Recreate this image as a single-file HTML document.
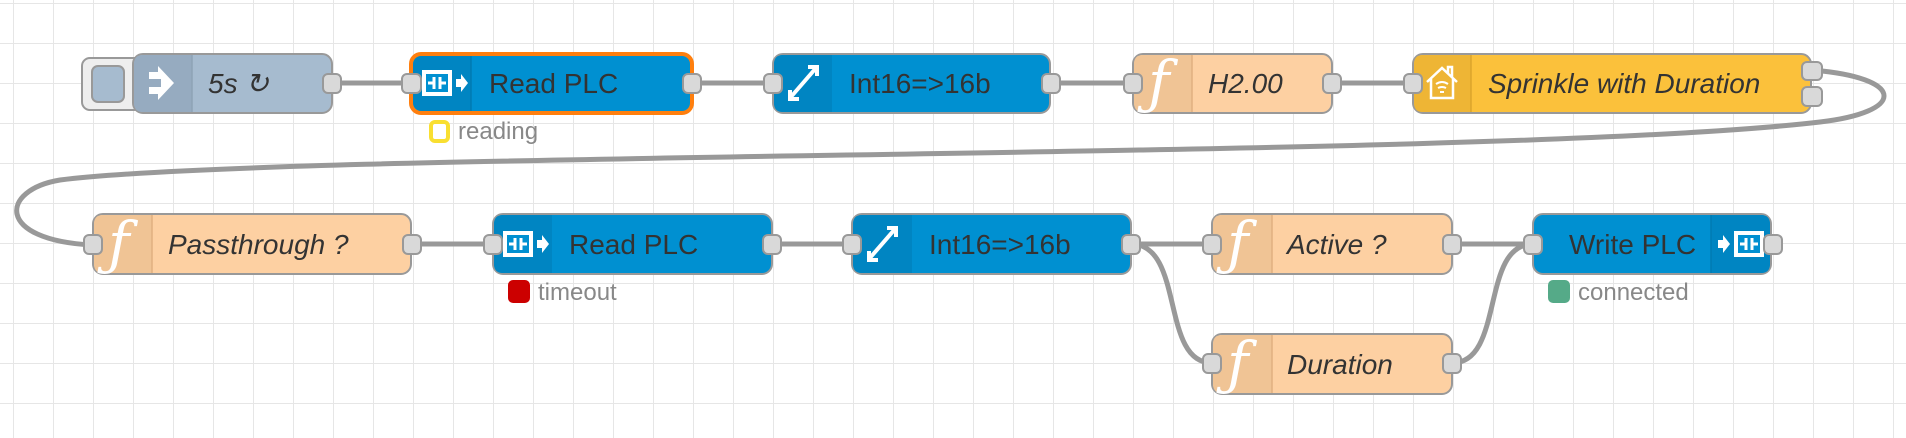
<!DOCTYPE html>
<html><head><meta charset="utf-8"><style>
html,body{margin:0;padding:0;background:#fff;}
svg{display:block;}
text{font-family:"Liberation Sans",Helvetica,Arial,sans-serif;}
.lbl{font-size:28px;fill:#333;}
.it{font-style:italic;}
.st{font-size:24px;fill:#888;}
.port{fill:#d9d9d9;stroke:#999;stroke-width:2;}
.node{stroke:#999;stroke-width:2;}
.wire{fill:none;stroke:#999;stroke-width:5;}
.f{font-family:"DejaVu Serif","Liberation Serif",serif;font-style:italic;font-size:58px;fill:#fff;font-weight:normal;}
</style></head><body>
<svg width="1906" height="438" viewBox="0 0 1906 438" xmlns="http://www.w3.org/2000/svg">
<defs>
<pattern id="g" x="13" y="3" width="40" height="40" patternUnits="userSpaceOnUse">
<path d="M0 0H40M0 0V40" stroke="#e6e6e6" stroke-width="2" fill="none"/>
</pattern>
<g id="plc"><rect x="0" y="0" width="30" height="26" fill="#fff"/><rect x="4" y="4" width="22" height="18" fill="#0090d1"/><path d="M6 13H12M12 7V19M18 7V19M18 13H24" stroke="#fff" stroke-width="3" fill="none"/></g>
</defs>
<rect width="1906" height="438" fill="url(#g)"/>

<!-- wires -->
<path class="wire" d="M341 83H402"/>
<path class="wire" d="M692 83H773"/>
<path class="wire" d="M1050 83H1133"/>
<path class="wire" d="M1332 83H1413"/>
<path class="wire" d="M1822 71C1905 80 1905 112 1820 122C1500 160 300 150 60 180C0 190 -5 240 92 245"/>
<path class="wire" d="M411 244H493"/>
<path class="wire" d="M772 244H852"/>
<path class="wire" d="M1131 244H1212"/>
<path class="wire" d="M1452 244H1533"/>
<path class="wire" d="M1131 244C1185 244 1160 363 1212 363"/>
<path class="wire" d="M1452 363C1505 363 1480 244 1533 244"/>

<!-- inject -->
<rect x="82" y="58" width="60" height="52" rx="8" fill="#eee" stroke="#999" stroke-width="2"/>
<rect x="92" y="66" width="32" height="36" rx="6" fill="#a6bbcf" stroke="#999" stroke-width="2"/>
<rect class="node" x="133" y="54" width="199" height="59" rx="10" fill="#a6bbcf"/>
<path d="M134 64Q134 55 143 55H192V112H143Q134 112 134 103Z" fill="#96abc0"/>
<line x1="192" y1="55" x2="192" y2="112" stroke="#8fa3b6" stroke-width="1.5"/>
<path d="M149 72H158V66L174 83L158 100V94H149V87H161V79H149Z" fill="#fff"/>
<text class="lbl it" x="208" y="93">5s ↻</text>
<rect class="port" x="323" y="74" width="18" height="19" rx="5"/>

<!-- Read PLC 1 -->
<rect x="411" y="54" width="281" height="59" rx="10" fill="#0090d1" stroke="#ff7f0e" stroke-width="4"/>
<path d="M413 66Q413 56 423 56H471V111H423Q413 111 413 101Z" fill="#0085c2"/>
<line x1="471" y1="56" x2="471" y2="111" stroke="#007ab3" stroke-width="1.5"/>
<use href="#plc" x="422" y="70"/>
<path d="M456 79H461V74L468 83L461 92V87H456Z" fill="#fff"/>
<text class="lbl" x="489" y="93">Read PLC</text>
<rect class="port" x="402" y="74" width="19" height="19" rx="5"/>
<rect class="port" x="683" y="74" width="18" height="19" rx="5"/>
<rect x="431" y="122" width="17" height="19" rx="4" fill="#fff" stroke="#f9df31" stroke-width="4"/>
<text class="st" x="458" y="139">reading</text>

<!-- Int16 1 -->
<rect class="node" x="773" y="54" width="277" height="59" rx="10" fill="#0090d1"/>
<path d="M774 64Q774 55 783 55H832V112H783Q774 112 774 103Z" fill="#0085c2"/>
<path d="M790 98L816 68M808 67H817V76M799 99H790V90" stroke="#fff" stroke-width="4" fill="none"/>
<text class="lbl" x="849" y="93">Int16=&gt;16b</text>
<rect class="port" x="764" y="74" width="18" height="19" rx="5"/>
<rect class="port" x="1042" y="74" width="18" height="19" rx="5"/>

<!-- H2.00 -->
<rect class="node" x="1133" y="54" width="199" height="59" rx="10" fill="#fdd0a2"/>
<path d="M1134 64Q1134 55 1143 55H1192V112H1143Q1134 112 1134 103Z" fill="#f0c495"/>
<line x1="1192" y1="55" x2="1192" y2="112" stroke="#e0b080" stroke-width="1.5"/>
<text class="f" x="1148" y="102">ƒ</text>
<text class="lbl it" x="1208" y="93">H2.00</text>
<rect class="port" x="1124" y="74" width="18" height="19" rx="5"/>
<rect class="port" x="1323" y="74" width="18" height="19" rx="5"/>

<!-- Sprinkle -->
<rect class="node" x="1413" y="54" width="398" height="59" rx="10" fill="#fbc13b"/>
<path d="M1414 64Q1414 55 1423 55H1471V112H1423Q1414 112 1414 103Z" fill="#eeb535"/>
<line x1="1471" y1="55" x2="1471" y2="112" stroke="#dca52c" stroke-width="1.5"/>
<path d="M1427 82L1442 68L1457 82M1431 79V98H1453V79M1448 73V67H1452V77" stroke="#fff" stroke-width="2.5" fill="none"/>
<path d="M1436 84Q1442 80 1448 84M1438 88Q1442 86 1446 88M1440 92H1444" stroke="#fff" stroke-width="2" fill="none"/>
<text class="lbl it" x="1488" y="93">Sprinkle with Duration</text>
<rect class="port" x="1404" y="74" width="18" height="19" rx="5"/>
<rect class="port" x="1802" y="62" width="20" height="18" rx="5"/>
<rect class="port" x="1802" y="87" width="20" height="19" rx="5"/>

<!-- Passthrough -->
<rect class="node" x="93" y="214" width="318" height="60" rx="10" fill="#fdd0a2"/>
<path d="M94 224Q94 215 103 215H152V273H103Q94 273 94 264Z" fill="#f0c495"/>
<line x1="152" y1="215" x2="152" y2="273" stroke="#e0b080" stroke-width="1.5"/>
<text class="f" x="108" y="263">ƒ</text>
<text class="lbl it" x="168" y="254">Passthrough ?</text>
<rect class="port" x="84" y="235" width="18" height="19" rx="5"/>
<rect class="port" x="403" y="235" width="18" height="19" rx="5"/>

<!-- Read PLC 2 -->
<rect class="node" x="493" y="214" width="279" height="60" rx="10" fill="#0090d1"/>
<path d="M494 224Q494 215 503 215H552V273H503Q494 273 494 264Z" fill="#0085c2"/>
<use href="#plc" x="503" y="231"/>
<path d="M537 240H542V235L549 244L542 253V248H537Z" fill="#fff"/>
<text class="lbl" x="569" y="254">Read PLC</text>
<rect class="port" x="484" y="235" width="18" height="19" rx="5"/>
<rect class="port" x="763" y="235" width="18" height="19" rx="5"/>
<rect x="508" y="280" width="22" height="23" rx="5" fill="#c00"/>
<text class="st" x="538" y="300">timeout</text>

<!-- Int16 2 -->
<rect class="node" x="852" y="214" width="279" height="60" rx="10" fill="#0090d1"/>
<path d="M853 224Q853 215 862 215H912V273H862Q853 273 853 264Z" fill="#0085c2"/>
<path d="M869 259L895 229M887 228H896V237M878 260H869V251" stroke="#fff" stroke-width="4" fill="none"/>
<text class="lbl" x="929" y="254">Int16=&gt;16b</text>
<rect class="port" x="843" y="235" width="18" height="19" rx="5"/>
<rect class="port" x="1122" y="235" width="18" height="19" rx="5"/>

<!-- Active -->
<rect class="node" x="1212" y="214" width="240" height="60" rx="10" fill="#fdd0a2"/>
<path d="M1213 224Q1213 215 1222 215H1272V273H1222Q1213 273 1213 264Z" fill="#f0c495"/>
<line x1="1272" y1="215" x2="1272" y2="273" stroke="#e0b080" stroke-width="1.5"/>
<text class="f" x="1227" y="263">ƒ</text>
<text class="lbl it" x="1287" y="254">Active ?</text>
<rect class="port" x="1203" y="235" width="18" height="19" rx="5"/>
<rect class="port" x="1443" y="235" width="18" height="19" rx="5"/>

<!-- Duration -->
<rect class="node" x="1212" y="334" width="240" height="60" rx="10" fill="#fdd0a2"/>
<path d="M1213 344Q1213 335 1222 335H1272V393H1222Q1213 393 1213 384Z" fill="#f0c495"/>
<line x1="1272" y1="335" x2="1272" y2="393" stroke="#e0b080" stroke-width="1.5"/>
<text class="f" x="1227" y="383">ƒ</text>
<text class="lbl it" x="1287" y="374">Duration</text>
<rect class="port" x="1203" y="354" width="18" height="19" rx="5"/>
<rect class="port" x="1443" y="354" width="18" height="19" rx="5"/>

<!-- Write PLC -->
<rect class="node" x="1533" y="214" width="238" height="60" rx="10" fill="#0090d1"/>
<path d="M1711 215H1761Q1770 215 1770 224V264Q1770 273 1761 273H1711Z" fill="#0085c2"/>
<line x1="1711" y1="215" x2="1711" y2="273" stroke="#007ab3" stroke-width="1.5"/>
<path d="M1718 240H1723V235L1730 244L1723 253V248H1718Z" fill="#fff"/>
<use href="#plc" x="1734" y="231"/>
<text class="lbl" x="1569" y="254">Write PLC</text>
<rect class="port" x="1524" y="235" width="18" height="19" rx="5"/>
<rect class="port" x="1764" y="235" width="18" height="19" rx="5"/>
<rect x="1548" y="280" width="22" height="23" rx="5" fill="#5a8"/>
<text class="st" x="1578" y="300">connected</text>
</svg>
</body></html>
